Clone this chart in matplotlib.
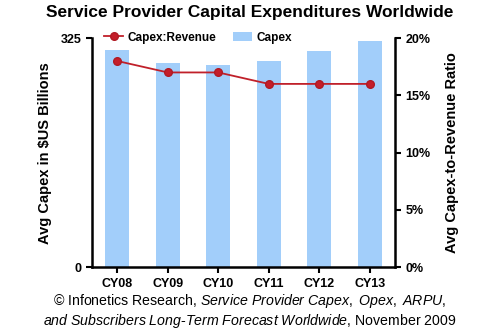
import matplotlib

matplotlib.use("Agg")
import matplotlib.pyplot as plt
from matplotlib.ticker import FuncFormatter

years = ["CY08", "CY09", "CY10", "CY11", "CY12", "CY13"]
capex = [308, 289, 287, 293, 306, 321]
capex_revenue = [18.0, 17.0, 17.0, 16.0, 16.0, 16.0]

plt.rcParams["font.family"] = ["Liberation Sans", "DejaVu Sans"]
plt.rcParams["mathtext.fontset"] = "custom"
plt.rcParams["mathtext.rm"] = "Liberation Sans"
plt.rcParams["mathtext.it"] = "Liberation Sans:italic"

BAR_COLOR = "#A2CEFA"
LINE_COLOR = "#C0202A"

fig = plt.figure(figsize=(5.0, 3.34), dpi=100)
ax = fig.add_axes([0.184, 0.2, 0.606, 0.686])
x = list(range(len(years)))

bars = ax.bar(x, capex, width=0.48, color=BAR_COLOR, label="Capex", zorder=1)
ax.set_xlim(-0.5, len(years) - 0.5)
ax.set_ylim(0, 325)
ax.set_yticks([0, 325])
ax.set_xticks(x)
ax.set_xticklabels(years, fontweight="bold", fontsize=9)
ax.set_ylabel("Avg Capex in $US Billions", fontweight="bold", fontsize=10.5)
ax.yaxis.set_label_coords(-0.132, 0.5)
for s in ("left", "bottom"):
    ax.spines[s].set_linewidth(1.8)
ax.spines["top"].set_visible(False)
ax.spines["right"].set_visible(False)
ax.tick_params(width=1.5, length=4, labelsize=9)
for lbl in ax.get_yticklabels():
    lbl.set_fontweight("bold")

ax2 = ax.twinx()
(line,) = ax2.plot(
    x, capex_revenue, "-o", color=LINE_COLOR, lw=1.3, ms=5.5,
    markerfacecolor="#C41E2A", markeredgecolor="#B01A24",
    label="Capex:Revenue", zorder=3,
)
ax2.set_ylim(0, 20)
ax2.set_yticks([0, 5, 10, 15, 20])
ax2.yaxis.set_major_formatter(FuncFormatter(lambda v, p: f"{v:.0f}%"))
ax2.set_ylabel("Avg Capex-to-Revenue Ratio", fontweight="bold", fontsize=10.5,
               rotation=90)
ax2.yaxis.set_label_coords(1.165, 0.5)
ax2.spines["top"].set_visible(False)
ax2.spines["left"].set_visible(False)
ax2.spines["bottom"].set_visible(False)
ax2.spines["right"].set_linewidth(1.8)
ax2.tick_params(width=1.5, length=4, labelsize=9)
for lbl in ax2.get_yticklabels():
    lbl.set_fontweight("bold")

ax2.legend(
    [line, bars], ["Capex:Revenue", "Capex"],
    loc="upper left", bbox_to_anchor=(0.005, 1.075), ncol=2, frameon=False,
    prop={"weight": "bold", "size": 8.5}, handlelength=1.6,
    columnspacing=1.4, handletextpad=0.4,
)

fig.text(0.5, 0.962, "Service Provider Capital Expenditures Worldwide",
         ha="center", va="center", fontsize=12.5, fontweight="bold")
fig.text(0.5, 0.098,
         "\u00a9 Infonetics Research, $\\it{Service\\ Provider\\ Capex,\\ Opex,\\ ARPU,}$",
         ha="center", va="center", fontsize=10.2)
fig.text(0.5, 0.04,
         "$\\it{and\\ Subscribers\\ Long}$-$\\it{Term\\ Forecast\\ Worldwide}$, November 2009",
         ha="center", va="center", fontsize=10.2)

fig.savefig("out.png", dpi=100)
